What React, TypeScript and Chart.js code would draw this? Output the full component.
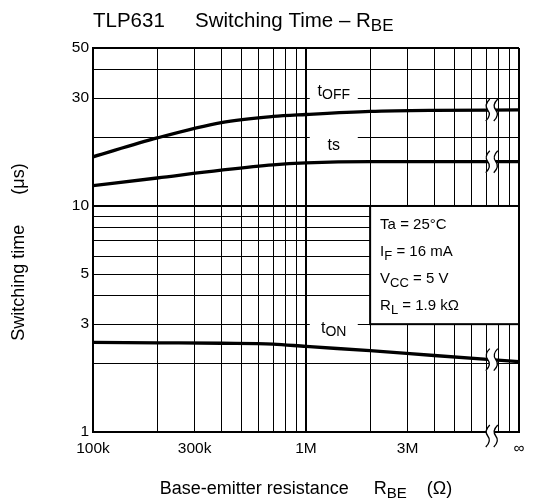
import React, { useEffect, useRef } from 'react';
import { Chart, registerables } from 'chart.js';

Chart.register(...registerables);

// ---------- data ----------
const rbeValues = [1e5, 2e5, 4e5, 7e5, 1e6, 2e6, 4e6, 1e7];
const tOffValues = [16.5, 20.0, 23.4, 24.9, 25.4, 26.2, 26.5, 26.6];
const tsValues = [12.3, 13.3, 14.4, 15.2, 15.5, 15.7, 15.7, 15.7];
const tOnValues = [2.49, 2.48, 2.47, 2.45, 2.39, 2.29, 2.18, 2.05];

const xGridValues = [
  1e5, 2e5, 3e5, 4e5, 5e5, 6e5, 7e5, 8e5, 9e5,
  1e6, 2e6, 3e6, 4e6, 5e6, 6e6, 7e6, 8e6, 9e6, 1e7,
];
const xTickValues = [1e5, 3e5, 1e6, 3e6, 1e7];
const xTickLabels = ['100k', '300k', '1M', '3M', '∞'];

const yGridValues = [1, 2, 3, 4, 5, 6, 7, 8, 9, 10, 20, 30, 40, 50];
const yTickValues = [1, 3, 5, 10, 30, 50];
const yTickLabels = ['1', '3', '5', '10', '30', '50'];

type Seg = { t: string; sub?: boolean };

const titleLeft: Seg[] = [{ t: 'TLP631' }];
const titleRight: Seg[] = [{ t: 'Switching Time – R' }, { t: 'BE', sub: true }];
const xTitle: Seg[] = [
  { t: 'Base-emitter resistance     R' },
  { t: 'BE', sub: true },
  { t: '    (Ω)' },
];
const yTitle: Seg[] = [{ t: 'Switching time      (μs)' }];

const conditionLines: Seg[][] = [
  [{ t: 'Ta = 25°C' }],
  [{ t: 'I' }, { t: 'F', sub: true }, { t: ' = 16 mA' }],
  [{ t: 'V' }, { t: 'CC', sub: true }, { t: ' = 5 V' }],
  [{ t: 'R' }, { t: 'L', sub: true }, { t: ' = 1.9 kΩ' }],
];

const curveLabels: Seg[][] = [
  [{ t: 't' }, { t: 'OFF', sub: true }],
  [{ t: 'ts' }],
  [{ t: 't' }, { t: 'ON', sub: true }],
];

// ---------- drawing helpers ----------
const FONT = '"Liberation Sans", Arial, Helvetica, sans-serif';
const fnt = (s: number) => `${s}px ${FONT}`;

function drawRich(
  ctx: CanvasRenderingContext2D,
  segs: Seg[],
  x: number,
  y: number,
  size: number,
  subSize: number,
  subDy: number,
  align: 'left' | 'center' | 'right'
) {
  ctx.save();
  ctx.textBaseline = 'alphabetic';
  ctx.textAlign = 'left';
  ctx.fillStyle = '#000';
  let total = 0;
  const widths = segs.map((s) => {
    ctx.font = fnt(s.sub ? subSize : size);
    const w = ctx.measureText(s.t).width;
    total += w;
    return w;
  });
  let cx = align === 'left' ? x : align === 'center' ? x - total / 2 : x - total;
  segs.forEach((s, i) => {
    ctx.font = fnt(s.sub ? subSize : size);
    ctx.fillText(s.t, cx, s.sub ? y + subDy : y);
    cx += widths[i];
  });
  ctx.restore();
}

function sPath(ctx: CanvasRenderingContext2D, cx: number, cy: number, h: number) {
  ctx.moveTo(cx + 2, cy - h);
  ctx.quadraticCurveTo(cx - 4, cy - h * 0.45, cx, cy);
  ctx.quadraticCurveTo(cx + 4, cy + h * 0.45, cx - 2, cy + h);
}

function breakMark(ctx: CanvasRenderingContext2D, cx: number, cy: number, h: number, gap: number) {
  const x1 = cx - gap / 2;
  const x2 = cx + gap / 2;
  ctx.save();
  ctx.beginPath();
  ctx.moveTo(x1 + 2, cy - h);
  ctx.quadraticCurveTo(x1 - 4, cy - h * 0.45, x1, cy);
  ctx.quadraticCurveTo(x1 + 4, cy + h * 0.45, x1 - 2, cy + h);
  ctx.lineTo(x2 - 2, cy + h);
  ctx.quadraticCurveTo(x2 + 4, cy + h * 0.45, x2, cy);
  ctx.quadraticCurveTo(x2 - 4, cy - h * 0.45, x2 + 2, cy - h);
  ctx.closePath();
  ctx.fillStyle = '#fff';
  ctx.fill();
  ctx.beginPath();
  sPath(ctx, x1, cy, h);
  sPath(ctx, x2, cy, h);
  ctx.strokeStyle = '#000';
  ctx.lineWidth = 1.3;
  ctx.stroke();
  ctx.restore();
}

function valueAt(xs: number[], ys: number[], x: number) {
  for (let i = 0; i < xs.length - 1; i++) {
    if (x >= xs[i] && x <= xs[i + 1]) {
      const t = (Math.log(x) - Math.log(xs[i])) / (Math.log(xs[i + 1]) - Math.log(xs[i]));
      return Math.exp(Math.log(ys[i]) + t * (Math.log(ys[i + 1]) - Math.log(ys[i])));
    }
  }
  return ys[ys.length - 1];
}

const decorPlugin = {
  id: 'decor',
  afterDatasetsDraw(chart: any) {
    const ctx: CanvasRenderingContext2D = chart.ctx;
    const xs = chart.scales.x;
    const ys = chart.scales.y;
    const area = chart.chartArea;

    // curve labels with white backing
    const labelX = xs.getPixelForValue(1.35e6);
    const labelDefs = [
      { seg: curveLabels[0], lineV: 30, base: -2 },
      { seg: curveLabels[1], lineV: 20, base: 12 },
      { seg: curveLabels[2], lineV: 3, base: 9 },
    ];
    labelDefs.forEach((d) => {
      const ly = ys.getPixelForValue(d.lineV);
      ctx.save();
      ctx.fillStyle = '#fff';
      ctx.fillRect(labelX - 24, ly - 10, 48, 20);
      ctx.restore();
      drawRich(ctx, d.seg, labelX, ly + d.base, 16, 14, 3, 'center');
    });

    // condition box
    const bx1 = xs.getPixelForValue(2e6);
    const bx2 = area.right;
    const by1 = ys.getPixelForValue(10);
    const by2 = ys.getPixelForValue(3);
    ctx.save();
    ctx.fillStyle = '#fff';
    ctx.fillRect(bx1, by1, bx2 - bx1, by2 - by1);
    ctx.strokeStyle = '#000';
    ctx.lineWidth = 2;
    ctx.strokeRect(bx1, by1, bx2 - bx1, by2 - by1);
    ctx.restore();
    conditionLines.forEach((line, i) => {
      drawRich(ctx, line, bx1 + 10, by1 + 23 + i * 27, 15, 13, 4, 'left');
    });

    // break marks
    const breakX = 7.45e6;
    const bpx = xs.getPixelForValue(breakX);
    [tOffValues, tsValues, tOnValues].forEach((vals) => {
      const v = valueAt(rbeValues, vals, breakX);
      breakMark(ctx, bpx, ys.getPixelForValue(v), 11, 8);
    });
    breakMark(ctx, bpx, area.bottom + 4, 11, 8);
  },
  afterDraw(chart: any) {
    const ctx: CanvasRenderingContext2D = chart.ctx;
    const area = chart.chartArea;
    // title
    drawRich(ctx, titleLeft, area.left, 27, 20.5, 17, 4, 'left');
    drawRich(ctx, titleRight, 195, 27, 20.5, 17, 4, 'left');
    // x title
    drawRich(ctx, xTitle, (area.left + area.right) / 2, 494, 18, 15, 4, 'center');
    // y title
    ctx.save();
    ctx.translate(24, 252);
    ctx.rotate(-Math.PI / 2);
    drawRich(ctx, yTitle, 0, 0, 18, 15, 4, 'center');
    ctx.restore();
  },
};

const edgeWidth = (v: number, lo: number, hi: number, decade: number) =>
  v === lo || v === hi ? 2 : v === decade ? 2 : 1;

export default function App() {
  const ref = useRef<HTMLCanvasElement | null>(null);

  useEffect(() => {
    const canvas = ref.current;
    if (!canvas) return;
    const mk = (vals: number[]) => rbeValues.map((x, i) => ({ x, y: vals[i] }));
    const lineStyle = {
      borderColor: '#000',
      borderWidth: 3.3,
      pointRadius: 0,
      cubicInterpolationMode: 'monotone' as const,
      fill: false,
    };
    const chart = new Chart(canvas, {
      type: 'line',
      data: {
        datasets: [
          { label: 'tOFF', data: mk(tOffValues), ...lineStyle },
          { label: 'ts', data: mk(tsValues), ...lineStyle },
          { label: 'tON', data: mk(tOnValues), ...lineStyle },
        ],
      },
      options: {
        responsive: false,
        animation: false,
        devicePixelRatio: 1,
        layout: { padding: { top: 48, right: 19, left: 0, bottom: 0 } },
        plugins: {
          legend: { display: false },
          title: { display: false },
          tooltip: { enabled: false },
        },
        scales: {
          x: {
            type: 'logarithmic',
            min: 1e5,
            max: 1e7,
            afterBuildTicks: (s: any) => {
              s.ticks = xGridValues.map((v) => ({ value: v }));
            },
            afterFit: (s: any) => {
              s.height = 69;
            },
            grid: {
              color: '#000',
              lineWidth: (c: any) => edgeWidth(c.tick?.value, 1e5, 1e7, 1e6),
              drawTicks: false,
            },
            border: { display: true, color: '#000', width: 2 },
            ticks: {
              autoSkip: false,
              maxRotation: 0,
              padding: 7,
              color: '#000',
              font: { family: FONT, size: 15.5 },
              callback: (v: any) => {
                const i = xTickValues.indexOf(Number(v));
                return i >= 0 ? xTickLabels[i] : '';
              },
            },
          },
          y: {
            type: 'logarithmic',
            min: 1,
            max: 50,
            afterBuildTicks: (s: any) => {
              s.ticks = yGridValues.map((v) => ({ value: v }));
            },
            afterFit: (s: any) => {
              s.width = 93;
            },
            grid: {
              color: '#000',
              lineWidth: (c: any) => edgeWidth(c.tick?.value, 1, 50, 10),
              drawTicks: false,
            },
            border: { display: true, color: '#000', width: 2 },
            ticks: {
              autoSkip: false,
              padding: 4,
              color: '#000',
              font: { family: FONT, size: 15.5 },
              callback: (v: any) => {
                const i = yTickValues.indexOf(Number(v));
                return i >= 0 ? yTickLabels[i] : '';
              },
            },
          },
        },
      },
      plugins: [decorPlugin],
    } as any);
    return () => chart.destroy();
  }, []);

  return (
    <div style={{ position: 'absolute', left: 0, top: 0, width: 538, height: 501, background: '#fff' }}>
      <canvas ref={ref} width={538} height={501} style={{ display: 'block', width: 538, height: 501 }} />
    </div>
  );
}
